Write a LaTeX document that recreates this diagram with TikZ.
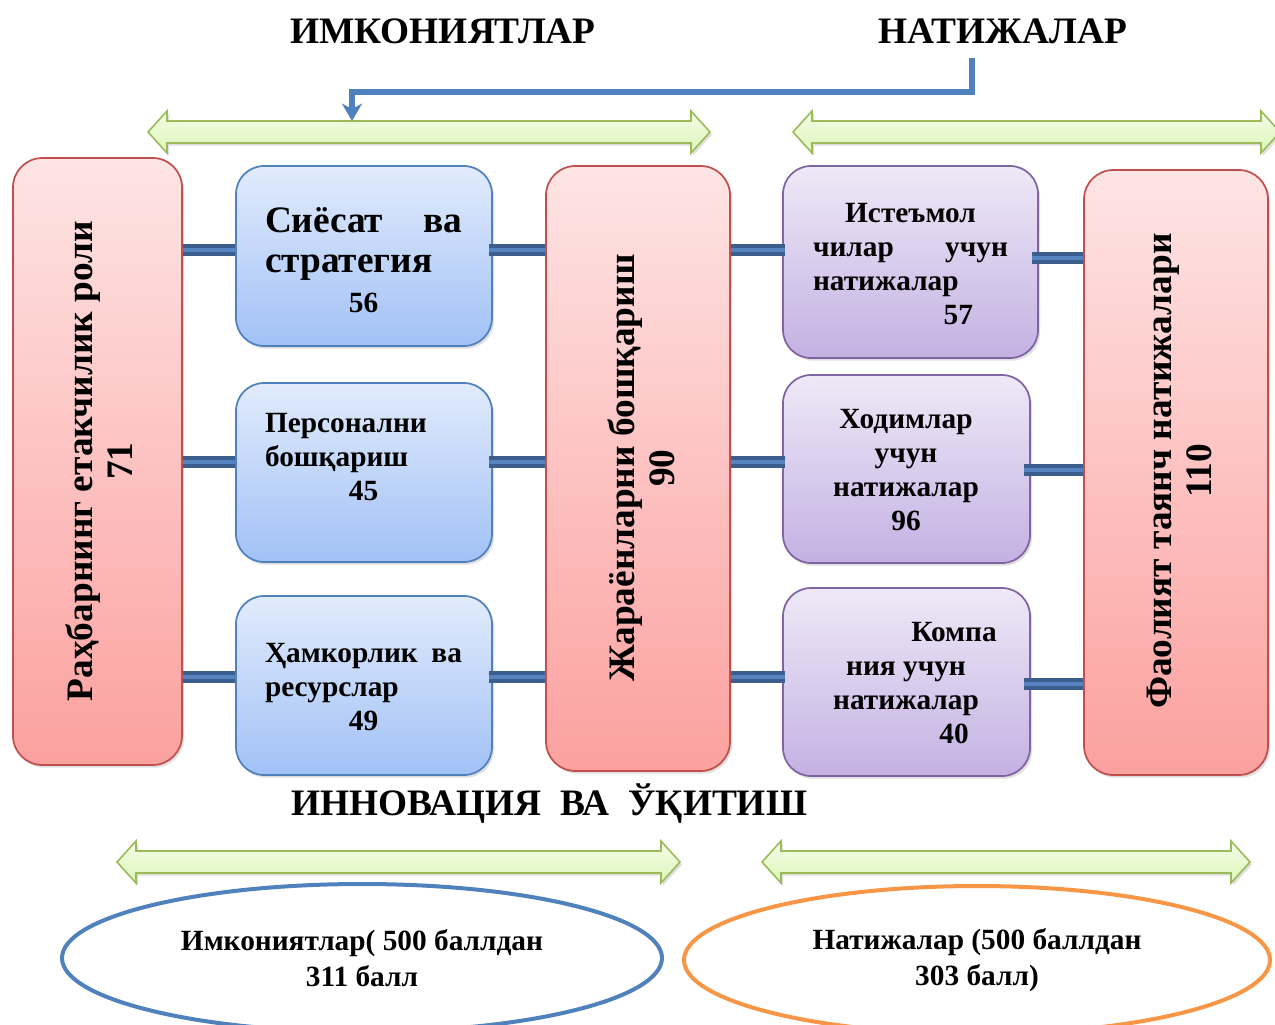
\documentclass[tikz,border=0pt]{standalone}
\usepackage{fontspec}
\setmainfont{Liberation Serif}
\usetikzlibrary{shapes.geometric,shadows,arrows.meta}
\definecolor{redD}{HTML}{C0504D}
\definecolor{redT}{HTML}{FEE4E4}
\definecolor{redBt}{HTML}{FBA19F}
\definecolor{bluD}{HTML}{4F81BD}
\definecolor{bluT}{HTML}{E1EBFC}
\definecolor{bluBt}{HTML}{A2C1F6}
\definecolor{purD}{HTML}{8064A2}
\definecolor{purT}{HTML}{EEE9F7}
\definecolor{purBt}{HTML}{C4B1E3}
\definecolor{grnD}{HTML}{9BBB59}
\definecolor{grnT}{HTML}{F4FDE8}
\definecolor{grnBt}{HTML}{DBF6B8}
\definecolor{connD}{HTML}{3B5E8C}
\definecolor{connL}{HTML}{5584C0}
\definecolor{orgD}{HTML}{F79646}
\newcommand\bigf{\bfseries\fontsize{28}{30}\selectfont}
\newcommand\smallf{\bfseries\fontsize{22}{25.5}\selectfont}
\newcommand\greenarrow[3]{%
  \draw[garr] (#1,#3) -- (#1+19,#3-21) -- (#1+19,#3-11) -- (#2-19,#3-11) -- (#2-19,#3-21)
    -- (#2,#3) -- (#2-19,#3+21) -- (#2-19,#3+11) -- (#1+19,#3+11) -- (#1+19,#3+21) -- cycle;}
\begin{document}
\begin{tikzpicture}[x=0.75pt,y=-0.75pt,
  shad/.style={drop shadow={opacity=0.25,shadow xshift=1.5pt,shadow yshift=-2pt}},
  redbox/.style={rectangle, rounded corners=22pt, draw=redD, line width=1.3pt, top color=redT, bottom color=redBt, shad, inner sep=0pt},
  blubox/.style={rectangle, rounded corners=21pt, draw=bluD, line width=1.3pt, top color=bluT, bottom color=bluBt, shad, inner sep=0pt, minimum width=192pt},
  purbox/.style={rectangle, rounded corners=21pt, draw=purD, line width=1.3pt, top color=purT, bottom color=purBt, shad, inner sep=0pt},
  conn/.style={draw=connD, line width=3.4pt, double=connL, double distance=2.4pt},
  garr/.style={draw=grnD, line width=1.2pt, top color=grnT, bottom color=grnBt, line join=miter, shad},
  ell/.style={ellipse, draw, line width=3pt, fill=white, inner sep=0pt, align=center, font=\bfseries\fontsize{22}{26.5}\selectfont, minimum height=111pt},
  ttl/.style={font=\bigf, inner sep=0pt}
]
\useasboundingbox (0,0) rectangle (1275,1025);

% titles
\node[ttl] (t1) at (443,31) {ИМКОНИЯТЛАР};
\node[ttl] (t2) at (1003,31) {НАТИЖАЛАР};
\node[ttl] (t3) at (549,804) {ИННОВАЦИЯ\hspace{14pt}ВА\hspace{14pt}ЎҚИТИШ};

% green arrows
\greenarrow{148}{710}{132}
\greenarrow{793}{1280}{132}
\greenarrow{117}{680}{862}
\greenarrow{762}{1250}{862}

% blue bent arrow
\coordinate (bstart) at (972,58);
\coordinate (bend) at (352,121);
\draw[bluD, line width=4pt, -{Stealth[length=13pt,width=15pt,inset=4pt]}] (bstart) -- (972,92) -- (352,92) -- (bend);

% boxes
\node[redbox, minimum width=126.75pt, minimum height=455.25pt] (L) at (97.5,461.5) {};
\node[blubox, minimum height=135pt] (S1) at (364,256) {};
\node[blubox, minimum height=134.25pt] (S2) at (364,472.5) {};
\node[blubox, minimum height=134.25pt] (S3) at (364,685.5) {};
\node[redbox, minimum width=138pt, minimum height=453.75pt] (M) at (638,468.5) {};
\node[purbox, minimum width=191.25pt, minimum height=144pt] (P1) at (910.5,262) {};
\node[purbox, minimum width=185.25pt, minimum height=141pt] (P2) at (906.5,469) {};
\node[purbox, minimum width=185.25pt, minimum height=141pt] (P3) at (906.5,682) {};
\node[redbox, minimum width=138pt, minimum height=453.75pt] (R) at (1176,472.5) {};

% box texts
\node[rotate=90, align=center, font=\bigf, inner sep=0pt] (Lt) at (99,461) {Раҳбарнинг етакчилик роли\\71};
\node[rotate=90, align=center, font=\bigf, inner sep=0pt] (Mt) at (641,468) {Жараёнларни бошқариш\\90};
\node[rotate=90, align=center, font=\bigf, inner sep=0pt] (Rt) at (1179,471) {Фаолият таянч натижалари\\110};

\node[text width=147.75pt, align=left, font=\bigf, inner sep=0pt] (S1t) at (363.5,260) {Сиёсат\hfill ва\\стратегия\\\makebox[\linewidth]{\fontsize{22}{25}\selectfont 56}};
\node[text width=147.75pt, align=left, font=\smallf, inner sep=0pt] (S2t) at (363.5,457) {Персонални\\бошқариш\\\makebox[\linewidth]{45}};
\node[text width=147.75pt, align=left, font=\smallf, inner sep=0pt] (S3t) at (363.5,687) {Ҳамкорлик\hfill ва\\ресурслар\\\makebox[\linewidth]{49}};

\node[text width=146.25pt, align=left, font=\smallf, inner sep=0pt] (P1t) at (910.5,264) {\makebox[\linewidth]{Истеъмол}\\чилар\hfill учун\\натижалар\\\hspace*{98pt}57};
\node[align=center, font=\smallf, inner sep=0pt] (P2t) at (906,470) {Ходимлар\\учун\\натижалар\\96};
\node[align=center, font=\smallf, inner sep=0pt] (P3t) at (906,683) {\hspace*{72pt}Компа\\ния учун\\натижалар\\\hspace*{72pt}40};

% connectors
\foreach \y/\a/\b in {250/L/S1, 462/L/S2, 677/L/S3}{
  \draw[conn] (\a.east |- 0,\y) -- (\b.west |- 0,\y);}
\foreach \y/\a in {250/S1, 462/S2, 677/S3}{
  \draw[conn] ([xshift=-3pt]\a.east |- 0,\y) -- (M.west |- 0,\y);}
\foreach \y/\b in {250/P1, 462/P2, 677/P3}{
  \draw[conn] (M.east |- 0,\y) -- ([xshift=2pt]\b.west |- 0,\y);}
\foreach \y/\a in {258/P1, 470/P2, 684/P3}{
  \draw[conn] ([xshift=-5pt]\a.east |- 0,\y) -- (R.west |- 0,\y);}

% ellipses
\node[ell, draw=bluD, minimum width=450pt] (E1) at (362,958) {Имкониятлар( 500 баллдан\\311 балл};
\node[ell, draw=orgD, minimum width=439.5pt] (E2) at (977,960) {Натижалар (500 баллдан\\303 балл)};
\end{tikzpicture}
\end{document}
